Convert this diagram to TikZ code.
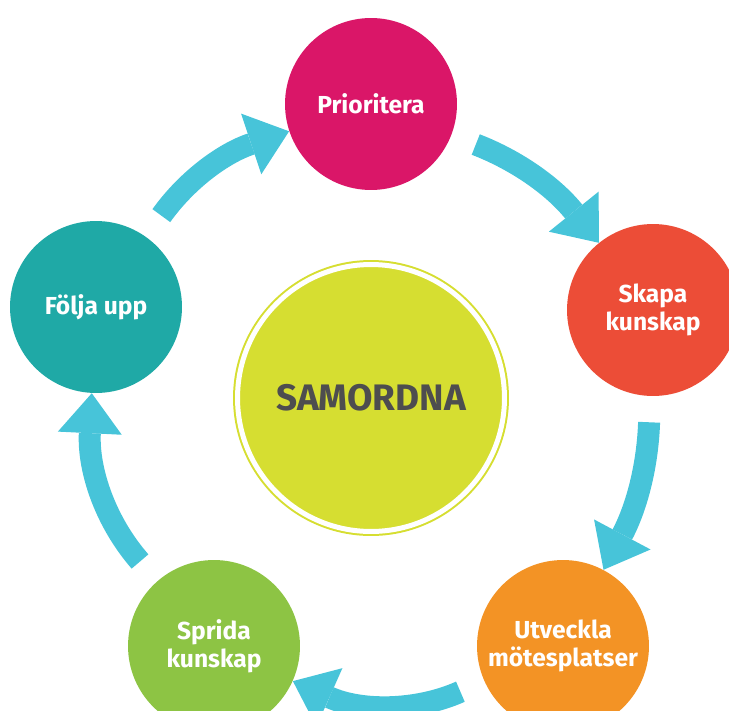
\documentclass[tikz,border=0pt]{standalone}
\usepackage{fontspec}
\setmainfont{Fira Sans}
\usepackage{tikz}
\usetikzlibrary{arrows.meta}

\definecolor{prio}{HTML}{DA1668}
\definecolor{skapa}{HTML}{EC4D37}
\definecolor{utveckla}{HTML}{F39325}
\definecolor{sprida}{HTML}{8DC444}
\definecolor{folja}{HTML}{1FA9A6}
\definecolor{centre}{HTML}{D6DE31}
\definecolor{flowblue}{HTML}{47C4D9}
\definecolor{darktext}{HTML}{4D4D4F}

\begin{document}
\begin{tikzpicture}[x=0.02cm, y=-0.02cm,
  stage/.style={circle, minimum size=3.44cm, inner sep=0pt, align=center,
    text=white, font=\bfseries\fontsize{14}{16}\selectfont},
  flow/.style={color=flowblue, line width=0.44cm, shorten <=0.52cm,
    -{Triangle[length=0.8cm, width=1.28cm, line width=0pt]}}]
  \useasboundingbox (0,0) rectangle (729,710);

  % centre
  \node (samordna) at (371,398) [circle, minimum size=5.34cm, fill=centre,
    draw=centre, line width=0.04cm, double=white, double distance=0.1cm,
    text=darktext, font=\bfseries\fontsize{21}{24}\selectfont] {SAMORDNA};

  % stages
  \node (prio)     at (371,104) [stage, fill=prio]     {Prioritera};
  \node (skapa)    at (653,310) [stage, fill=skapa]    {Skapa\\kunskap};
  \node (utveckla) at (563,646) [stage, fill=utveckla] {Utveckla\\mötesplatser};
  \node (sprida)   at (214,646) [stage, fill=sprida]   {Sprida\\kunskap};
  \node (folja)    at (96,307)  [stage, fill=folja]    {Följa upp};

  \path[flow]
  (folja)    edge [bend left=18] (prio)
  (prio)     edge [bend left=15] (skapa)
  (skapa)    edge [bend left=13] (utveckla)
  (utveckla) edge [bend left=24] (sprida)
  (sprida)   edge [bend left=22] (folja)
  ;
\end{tikzpicture}
\end{document}
